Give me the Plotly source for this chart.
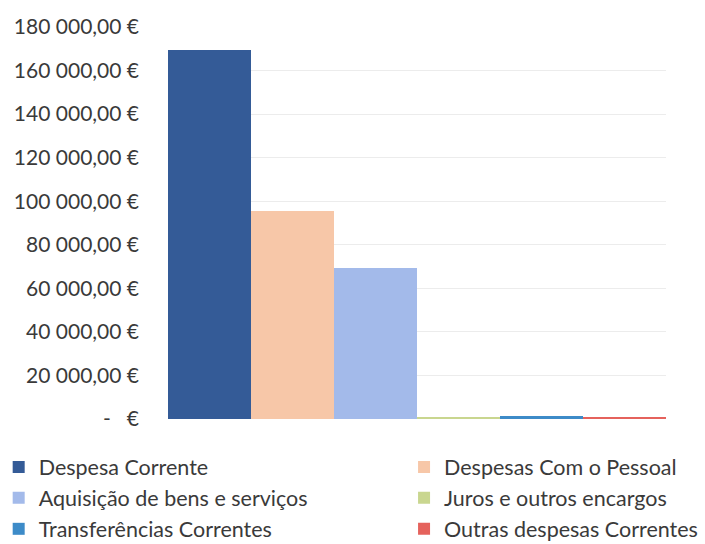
import plotly.graph_objects as go

categories = ["Despesa Corrente", "Despesas Com o Pessoal", "Aquisição de bens e serviços",
              "Juros e outros encargos", "Transferências Correntes", "Outras despesas Correntes"]
values = [169400, 95500, 69300, 500, 1500, 800]
colors = ["#345b97", "#f7c7a8", "#a3baea", "#c9d68f", "#3d8bc8", "#e5625c"]
legend_groups = ["legend", "legend2", "legend", "legend2", "legend", "legend2"]
tick_vals = [0, 20000, 40000, 60000, 80000, 100000, 120000, 140000, 160000, 180000]
tick_text = ["-   €", "20 000,00 €", "40 000,00 €", "60 000,00 €", "80 000,00 €",
             "100 000,00 €", "120 000,00 €", "140 000,00 €", "160 000,00 €", "180 000,00 €"]

fig = go.Figure()
for name, v, c, lg in zip(categories, values, colors, legend_groups):
    fig.add_trace(go.Bar(x=["x"], y=[v], name=name, legend=lg,
                         marker=dict(color=c, line=dict(width=0))))

legend_common = dict(orientation="v", yanchor="top", xanchor="left", itemwidth=30,
                     tracegroupgap=0, font=dict(size=21.5, color="#3a3a3a"),
                     traceorder="normal", bgcolor="rgba(0,0,0,0)")

fig.update_layout(
    width=705, height=544,
    margin=dict(l=168, r=39, t=27, b=125, autoexpand=False),
    paper_bgcolor="white", plot_bgcolor="white",
    barmode="group", bargap=0, bargroupgap=0,
    font=dict(family="Lato, Open Sans, sans-serif", size=21, color="#3a3a3a"),
    showlegend=True,
    legend=dict(x=-0.34, y=-0.07, **legend_common),
    legend2=dict(x=0.474, y=-0.07, **legend_common),
    xaxis=dict(showticklabels=False, showgrid=False, zeroline=False, showline=False,
               range=[-0.5, 0.5]),
    yaxis=dict(range=[0, 180000], tickvals=tick_vals, ticktext=tick_text,
               showgrid=True, gridcolor="#ececec", gridwidth=1, zeroline=False,
               showline=False, ticks="", ticklabelstandoff=28, automargin=False),
)
fig.write_html("out.html", config={"displayModeBar": False},
               post_script="document.body.style.margin='0';")
